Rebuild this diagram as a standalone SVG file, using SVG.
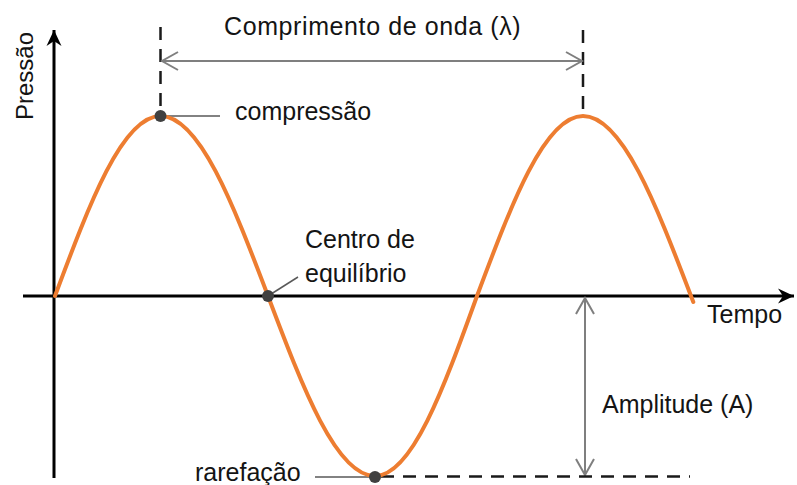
<svg xmlns="http://www.w3.org/2000/svg" width="797" height="485" viewBox="0 0 797 485">
  <style>
    .lbl { font-family: "Liberation Sans", Arial, sans-serif; font-size: 25px; fill: #141414; }
    .axis { stroke: #000; stroke-width: 3; fill: none; }
    .wave { stroke: #ED7D31; stroke-width: 4; fill: none; stroke-linecap: round; }
    .dim { stroke: #7F7F7F; stroke-width: 2; fill: none; }
    .dash { stroke: #1a1a1a; stroke-width: 2.5; fill: none; stroke-dasharray: 13 9; }
    .lead { stroke: #595959; stroke-width: 1.5; fill: none; }
    .dot { fill: #404040; }
  </style>
  <defs>
    <marker id="axArrow" viewBox="-17 -9 18 18" refX="0" refY="0" markerWidth="18" markerHeight="18" markerUnits="userSpaceOnUse" orient="auto">
      <path d="M0,0 L-16,-7.5 L-11,0 L-16,7.5 Z" fill="#000"/>
    </marker>
    <marker id="dimArrow" viewBox="-18 -10 20 20" refX="0" refY="0" markerWidth="20" markerHeight="20" markerUnits="userSpaceOnUse" orient="auto-start-reverse">
      <path d="M-16,-9 L0,0 L-16,9" fill="none" stroke="#7F7F7F" stroke-width="2"/>
    </marker>
  </defs>

  <g id="axes">
    <line class="axis" x1="54" y1="478" x2="54" y2="30" marker-end="url(#axArrow)"/>
    <line class="axis" x1="23" y1="296" x2="794" y2="296" marker-end="url(#axArrow)"/>
  </g>

  <g id="connectors">
    <line class="dash" x1="160.5" y1="27" x2="160.5" y2="110"/>
    <line class="dash" x1="583" y1="30" x2="583" y2="113"/>
    <line class="dim" x1="162" y1="61" x2="582" y2="61" marker-start="url(#dimArrow)" marker-end="url(#dimArrow)"/>
    <line class="dim" x1="585" y1="298" x2="585" y2="475" marker-start="url(#dimArrow)" marker-end="url(#dimArrow)"/>
    <line class="dash" x1="381" y1="476.5" x2="690" y2="476.5"/>
    <line class="lead" x1="160.5" y1="116" x2="220" y2="116"/>
    <line class="lead" x1="268" y1="296" x2="298" y2="277"/>
    <line class="lead" x1="315" y1="477" x2="375" y2="477"/>
  </g>

  <g id="wave">
    <path class="wave" d="M55,296 C89.41,203.79 122.32,116 160.5,116 C199.41,116 232.94,203.79 268,296 C302.9,388.21 336.28,476 375,476 C411.92,476 443.73,388.21 477,296 C511.57,203.79 544.64,116 583,116 C622.09,116 655.78,203.79 691,296 L693.3,302"/>
  </g>

  <g id="node-compressao">
    <circle class="dot" cx="160.5" cy="116" r="6"/>
    <text class="lbl" x="235" y="120">compressão</text>
  </g>
  <g id="node-equilibrio">
    <circle class="dot" cx="268" cy="296" r="6"/>
    <text class="lbl" x="305" y="248">Centro de</text>
    <text class="lbl" x="305" y="282">equilíbrio</text>
  </g>
  <g id="node-rarefacao">
    <circle class="dot" cx="375" cy="477" r="6"/>
    <text class="lbl" x="195" y="481">rarefação</text>
  </g>
  <g id="label-lambda">
    <text class="lbl" x="224" y="35" style="letter-spacing:0.6px">Comprimento de onda (λ)</text>
  </g>
  <g id="label-amplitude">
    <text class="lbl" x="602" y="413">Amplitude (A)</text>
  </g>
  <g id="label-tempo">
    <text class="lbl" x="707" y="323">Tempo</text>
  </g>
  <g id="label-pressao">
    <text class="lbl" transform="translate(33,120) rotate(-90)" style="font-size:24px">Pressão</text>
  </g>
</svg>
